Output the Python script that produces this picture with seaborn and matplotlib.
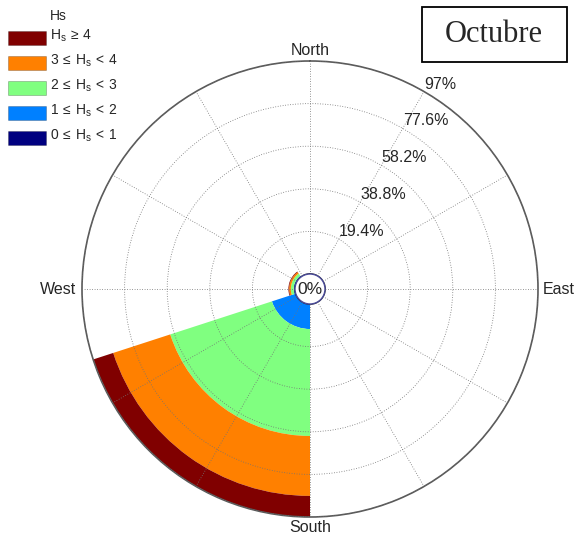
import numpy as np
import matplotlib
matplotlib.use("Agg")
import matplotlib.pyplot as plt
from matplotlib.patches import Rectangle, Circle
import seaborn as sns

# Wave rose for October: frequency (%) of significant wave height per direction sector
sector_dirs = [0, 72, 144, 216, 288]          # sector centres, degrees clockwise from North
sector_width = 72                             # degrees
freq_hs_0_1 = [0.0, 0.0, 0.0, 0.0, 0.0]
freq_hs_1_2 = [0.0, 0.0, 0.0, 11.4, 0.6]
freq_hs_2_3 = [0.0, 0.0, 0.0, 48.7, 1.3]
freq_hs_3_4 = [0.0, 0.0, 0.0, 27.3, 0.8]
freq_hs_4_up = [0.0, 0.0, 0.0, 9.6, 0.3]

legend_title = "Hs"
hs_labels = [r"$H_s\:\geq\:4$", r"$3\:\leq\:H_s\:<\:4$", r"$2\:\leq\:H_s\:<\:3$",
             r"$1\:\leq\:H_s\:<\:2$", r"$0\:\leq\:H_s\:<\:1$"]
ring_values = [19.4, 38.8, 58.2, 77.6, 97.0]
ring_labels = ["19.4%", "38.8%", "58.2%", "77.6%", "97%"]
compass_north, compass_east, compass_south, compass_west = "North", "East", "South", "West"
month = "Octubre"

sns.set_theme(style="white")
plt.rcParams["font.family"] = ["Liberation Sans", "DejaVu Sans"]
plt.rcParams["mathtext.fontset"] = "custom"
plt.rcParams["mathtext.rm"] = "Liberation Sans"
plt.rcParams["mathtext.it"] = "Liberation Sans"
plt.rcParams["mathtext.bf"] = "Liberation Sans:bold"

# jet-like colours, lowest class first
bin_colors = sns.color_palette(["#000080", "#0080FF", "#80FF80", "#FF8000", "#800000"])
stack = [freq_hs_0_1, freq_hs_1_2, freq_hs_2_3, freq_hs_3_4, freq_hs_4_up]

W, H = 576, 538
fig = plt.figure(figsize=(W / 100, H / 100), dpi=100)
fig.patch.set_facecolor("white")

cx, cy, R, hole = 310, 289, 228, 15
ax = fig.add_axes([(cx - R) / W, (H - cy - R) / H, 2 * R / W, 2 * R / H], projection="polar")
ax.set_facecolor("white")
ax.set_theta_zero_location("N")
ax.set_theta_direction(-1)

theta = np.deg2rad(sector_dirs)
bottom = np.zeros(len(sector_dirs))
for vals, col in zip(stack, bin_colors):
    vals = np.asarray(vals)
    ax.bar(theta, vals, width=np.deg2rad(sector_width), bottom=bottom,
           color=col, edgecolor="none", linewidth=0, align="center", zorder=1)
    bottom += vals

rmax = ring_values[-1]
ax.set_ylim(0, rmax)
ax.set_rorigin(-rmax * hole / (R - hole))
ax.set_rgrids(ring_values, labels=[""] * len(ring_values))
tgrid = np.arange(0, 360, 30)
ax.set_thetagrids(tgrid, labels=[""] * len(tgrid))
ax.grid(True, color="0.45", linestyle=(0, (1, 2)), linewidth=0.6)
ax.set_axisbelow(False)
for name, sp in ax.spines.items():
    if name == "polar":
        sp.set_color("0.35")
        sp.set_linewidth(1.2)
    else:
        sp.set_visible(False)

# compass labels just outside the rim
d = 2 * R
ax.text(0.5, 1 + 11 / d, compass_north, transform=ax.transAxes, ha="center", va="center", fontsize=11.5)
ax.text(0.5, -11 / d, compass_south, transform=ax.transAxes, ha="center", va="center", fontsize=11.5)
ax.text(-6 / d, 0.5, compass_west, transform=ax.transAxes, ha="right", va="center", fontsize=11.5)
ax.text(1 + 5 / d, 0.5, compass_east, transform=ax.transAxes, ha="left", va="center", fontsize=11.5)

for rv, lab in zip(ring_values, ring_labels):
    ax.text(np.deg2rad(30), rv, lab, ha="left", va="bottom", fontsize=11.5, zorder=6)

# centre disc with zero label
ax.add_patch(Circle((0.5, 0.5), hole / (2 * R), transform=ax.transAxes,
                    facecolor="white", edgecolor="#4a4a9a", linewidth=1.0,
                    zorder=5, clip_on=False))
ax.text(0.5, 0.5, "0%", transform=ax.transAxes, ha="center", va="center",
        fontsize=12.5, zorder=6)

# legend
def fx(x):
    return x / W

def fy(y):
    return 1 - y / H

fig.text(fx(50), fy(20), legend_title, ha="left", va="baseline", fontsize=10)
for i, (lab, col) in enumerate(zip(hs_labels, bin_colors[::-1])):
    top = 31 + 25 * i
    fig.patches.append(Rectangle((fx(8), fy(top + 14)), 38 / W, 14 / H,
                                 transform=fig.transFigure, facecolor=col,
                                 edgecolor=(0, 0, 0, 0.25), linewidth=0.6))
    fig.text(fx(50), fy(top + 8.5), lab, ha="left", va="baseline", fontsize=10)

# month box
fig.patches.append(Rectangle((fx(422), fy(62)), 145 / W, 55 / H,
                             transform=fig.transFigure, fill=False,
                             edgecolor="black", linewidth=1.3))
fig.text(fx(494), fy(35), month, ha="center", va="center", fontsize=22,
         family=["Liberation Serif", "DejaVu Serif"])

fig.savefig("out.png", dpi=100, facecolor="white")
